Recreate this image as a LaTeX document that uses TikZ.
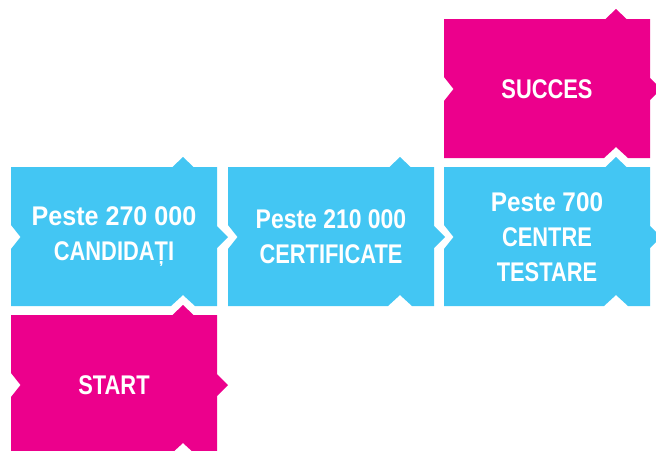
\documentclass[tikz,border=0pt]{standalone}
\usepackage{fontspec}
\newfontfamily\boxfont[FakeStretch=0.81]{Liberation Sans Bold}
\newfontfamily\pstfont[FakeStretch=0.9]{Liberation Sans Bold}
\newfontfamily\pstwide[FakeStretch=0.93]{Liberation Sans Bold}
\newfontfamily\pstnarrow[FakeStretch=0.85]{Liberation Sans Bold}
\definecolor{cy}{RGB}{67,198,243}
\definecolor{mg}{RGB}{236,0,140}
\tikzset{boxtxt/.style={text=white, align=center, inner sep=0pt, font=\boxfont\fontsize{27}{35}\selectfont}}
% #1 left, #2 top, #3 colour, #4 name, #5 text
\newcommand\pzbox[5]{%
  \fill[#3] (#1,#2) -- ({#1+161.5},#2) -- ({#1+172},{#2-10}) -- ({#1+182.5},#2)
    -- ({#1+206},#2) -- ({#1+206},{#2+59}) -- ({#1+217},{#2+70}) -- ({#1+206},{#2+81})
    -- ({#1+206},{#2+139}) -- ({#1+184},{#2+139}) -- ({#1+172},{#2+128}) -- ({#1+160},{#2+139})
    -- (#1,{#2+139}) -- (#1,{#2+82}) -- ({#1+9.5},{#2+70}) -- (#1,{#2+58}) -- cycle;
  \node[boxtxt] (#4) at ({#1+103},{#2+70}) {#5};%
}
\begin{document}
\begin{tikzpicture}[x=1pt,y=-1pt]
\useasboundingbox (0,0) rectangle (656,450);
\clip (0,0) rectangle (656,450);
\pzbox{444}{19}{mg}{succes}{SUCCES}
\pzbox{11}{167}{cy}{cand}{{\pstwide Peste 270 000}\\CANDIDAȚI}
\pzbox{228}{167}{cy}{cert}{{\pstnarrow Peste 210 000}\\CERTIFICATE}
\pzbox{444}{167}{cy}{centre}{{\pstfont Peste 700}\\CENTRE\\TESTARE}
\pzbox{11}{315}{mg}{start}{START}
\end{tikzpicture}
\end{document}
